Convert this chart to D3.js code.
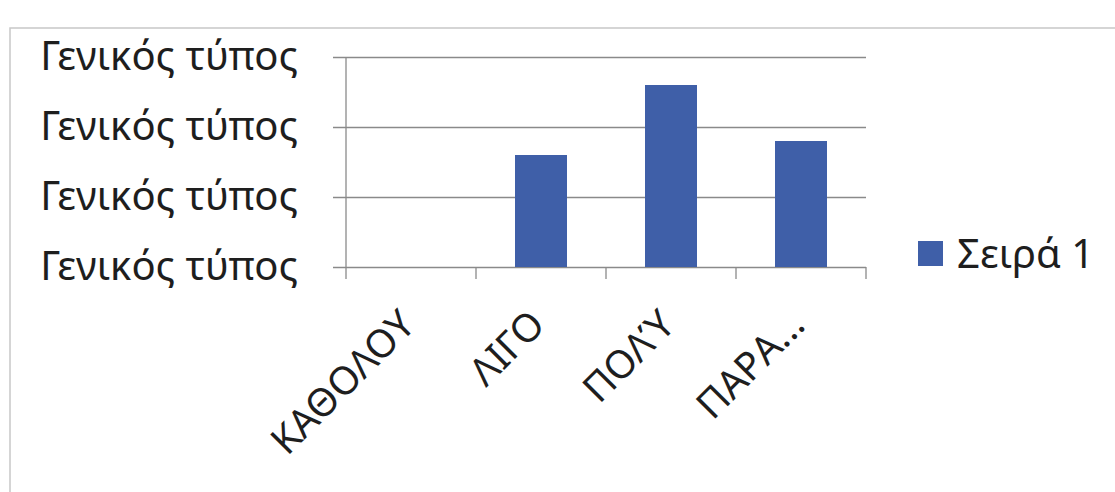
<!DOCTYPE html>
<html><head><meta charset="utf-8">
<script src="https://cdn.jsdelivr.net/npm/d3@7"></script>
<style>body{margin:0;background:#fff;}svg{display:block;}</style>
</head><body>
<svg id="c" width="1115" height="492"></svg>
<script>
const categories = ["ΚΑΘΟΛΟΥ", "ΛΙΓΟ", "ΠΟΛΎ", "ΠΑΡΑ..."];
const seriesValues = [0, 8, 13, 9];
const seriesName = "Σειρά 1";
const yTicks = [0, 5, 10, 15];
const yTickLabels = ["Γενικός τύπος", "Γενικός τύπος", "Γενικός τύπος", "Γενικός τύπος"];

(function () {
const svg = d3.select("#c");
const font = "'Noto Sans', 'DejaVu Sans', sans-serif";
const pl = 346, pr = 866, pt = 57, pb = 267;
const barColor = "#3F5FA8";

// outer frame
svg.append("path").attr("d", "M10,492 L10,28 L1115,28").attr("fill", "none").attr("stroke", "#c8c8c8").attr("stroke-width", 1.5);

const x = d3.scaleBand().domain(categories).range([pl, pr]).paddingInner(0.6).paddingOuter(0.3);
const xb = d3.scaleBand().domain(categories).range([pl, pr]);
const y = d3.scaleLinear().domain([0, 15]).range([pb, pt]);

// gridlines + y axis
const yAxis = d3.axisLeft(y).tickValues(yTicks).tickSize(-(pr - pl)).tickPadding(48)
  .tickFormat((d, i) => yTickLabels[i]);
const gy = svg.append("g").attr("transform", `translate(${pl},0)`).call(yAxis);
gy.select(".domain").remove();
gy.selectAll(".tick line").attr("stroke", "#8a8a8a").attr("stroke-width", 1.3).attr("x1", -13);
gy.selectAll(".tick text").attr("font-family", font).attr("font-size", 40).attr("fill", "#1e1e1e").attr("dy", "0.32em");
svg.append("line").attr("x1", pl).attr("x2", pl).attr("y1", pt).attr("y2", pb + 12)
  .attr("stroke", "#8a8a8a").attr("stroke-width", 1.3);

// bars
svg.append("g").selectAll("rect").data(seriesValues).join("rect")
  .attr("x", (d, i) => x(categories[i]))
  .attr("width", x.bandwidth())
  .attr("y", d => y(d))
  .attr("height", d => y(0) - y(d))
  .attr("fill", barColor);

// x axis ticks and labels
const gxt = svg.append("g");
xb.domain().forEach((c) => {
  const xe = xb(c) + xb.bandwidth();
  gxt.append("line").attr("x1", xe).attr("x2", xe).attr("y1", pb).attr("y2", pb + 12)
    .attr("stroke", "#8a8a8a").attr("stroke-width", 1.3);
});
gxt.selectAll("text").data(categories).join("text")
  .attr("transform", d => `translate(${xb(d) + xb.bandwidth() / 2 + 6},${pb + 60}) rotate(-45)`)
  .attr("text-anchor", "end")
  .attr("font-family", font).attr("font-size", 39).attr("fill", "#1e1e1e")
  .text(d => d);

// legend
const lg = svg.append("g").attr("transform", "translate(918,241)");
lg.append("rect").attr("width", 25).attr("height", 25).attr("fill", barColor);
lg.append("text").attr("x", 39).attr("y", 13).attr("dy", "0.36em")
  .attr("font-family", font).attr("font-size", 40).attr("fill", "#1e1e1e").text(seriesName);
})();
</script>
</body></html>
